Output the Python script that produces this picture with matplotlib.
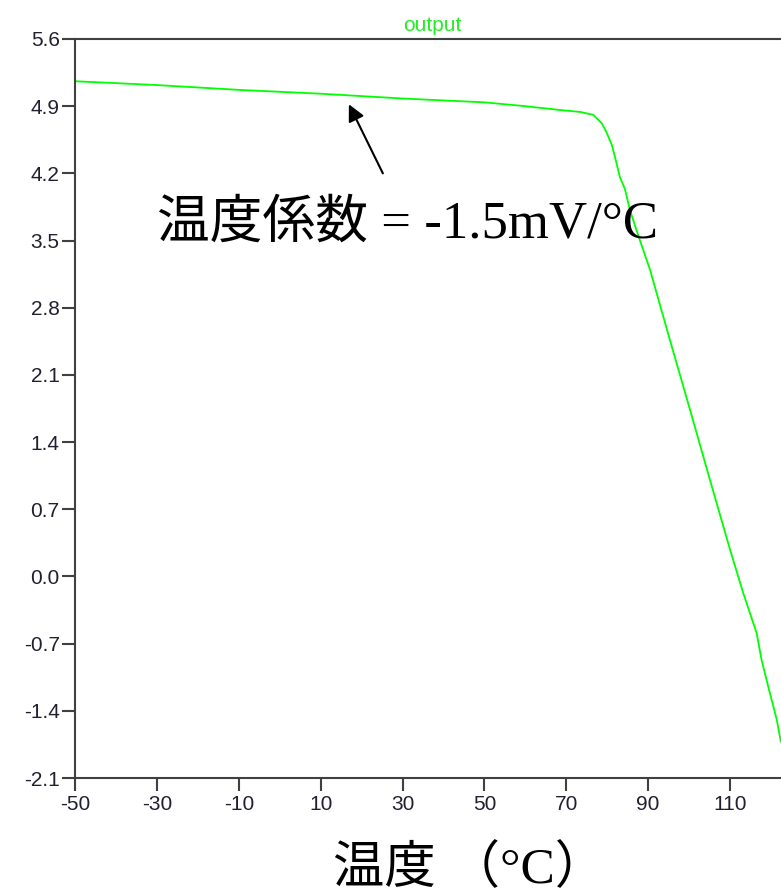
import matplotlib.pyplot as plt

plt.rcParams['axes.unicode_minus'] = False

# curve (temperature in degC, output in V)
temp = [-50, -30, -10, 10, 30, 50, 60, 68.5, 73.4, 76.6, 78.7, 79.9, 81.1,
        81.9, 83.1, 84.3, 85.6, 88.0, 90.5, 95, 100, 105, 110, 113.2, 116.5,
        117.7, 119.7, 121.4, 122.4]
vout = [5.16, 5.12, 5.07, 5.03, 4.98, 4.94, 4.90, 4.86, 4.84, 4.81, 4.72,
        4.62, 4.50, 4.37, 4.16, 4.04, 3.81, 3.50, 3.19, 2.51, 1.77, 1.02,
        0.28, -0.17, -0.59, -0.87, -1.21, -1.49, -1.72]

xticks = [-50, -30, -10, 10, 30, 50, 70, 90, 110]
yticks = [5.6, 4.9, 4.2, 3.5, 2.8, 2.1, 1.4, 0.7, 0.0, -0.7, -1.4, -2.1]

annot_text = '温度係数 = -1.5mV/°C'
xlabel_text = '温度 （°C）'

W, H = 781, 896
fig = plt.figure(figsize=(W / 100, H / 100), dpi=100)
ax = fig.add_axes([75 / W, 1 - 778 / H, 714 / W, 739 / H])

ax.plot(temp, vout, color='#00ff00', lw=1.3)

ax.set_xlim(-50, 124.4)
ax.set_ylim(-2.1, 5.6)
ax.set_xticks(xticks)
ax.set_yticks(yticks)
ax.set_yticklabels(['%.1f' % v for v in yticks])

for s in ['left', 'top', 'bottom', 'right']:
    ax.spines[s].set_color('#404040')
    ax.spines[s].set_linewidth(1.5)

ax.tick_params(axis='both', direction='out', length=9.5, width=1.5,
               color='#404040', labelcolor='#202030', labelsize=15)
ax.tick_params(axis='y', pad=1.5)
ax.tick_params(axis='x', pad=3)
for lab in ax.get_xticklabels() + ax.get_yticklabels():
    lab.set_family('Liberation Sans')

ax.set_title('output', color='#22ee22', fontsize=15, family='Liberation Sans', pad=6)

serif_cjk = ['Liberation Serif', 'Noto Sans CJK JP']
ax.text(-29.9, 3.53, annot_text, fontsize=38, family=serif_cjk,
        ha='left', va='baseline')
ax.annotate('', xy=(16.9, 4.92), xytext=(25.2, 4.2),
            arrowprops=dict(arrowstyle='-|>', color='k', lw=1.5,
                            mutation_scale=25, shrinkA=0, shrinkB=0))

fig.text(470 / W, 1 - 870 / H, xlabel_text, fontsize=37, family=serif_cjk,
         ha='center', va='center')

fig.savefig('out.png', dpi=100)
